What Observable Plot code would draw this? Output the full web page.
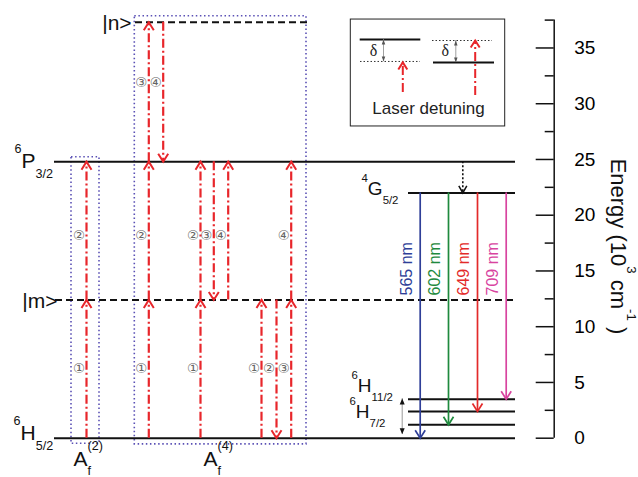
<!DOCTYPE html>
<html><head><meta charset="utf-8">
<script src="https://cdn.jsdelivr.net/npm/d3@7"></script>
<script src="https://cdn.jsdelivr.net/npm/@observablehq/plot@0.6"></script>
<style>body{margin:0;background:#fff;} svg{display:block}</style>
</head><body><div id="chart"></div>
<script>
// ---------------- data (energy in 10^3 cm^-1; x in diagram units) ----------------
const levelNames   = ["6H5/2", "|m>", "6P3/2", "|n>", "4G5/2", "6H11/2", "6H9/2", "6H7/2"];
const levelEnergy  = [0, 12.4, 24.8, 37.3, 22.0, 3.5, 2.4, 1.2];
const levelStart   = [54, 55, 54, 135, 408, 408, 408, 408];
const levelEnd     = [515, 515, 515, 307, 515, 515, 515, 515];
const levelDashed  = [false, true, false, true, false, false, false, false];

const pumpX      = [86, 86, 148.3, 148.3, 148.3, 162.7, 200, 200, 213.3, 227.7, 261, 276, 290.7, 290.7];
const pumpFrom   = [0, 12.4, 0, 12.4, 24.8, 37.3, 0, 12.4, 24.8, 12.4, 0, 12.4, 0, 12.4];
const pumpTo     = [12.4, 24.8, 12.4, 24.8, 37.3, 24.8, 12.4, 24.8, 12.4, 24.8, 12.4, 0, 12.4, 24.8];
const pumpStep   = ["①","②","①","②","③","④","①","②","③","④","①","②","③","④"];
const pumpLabelE = [6.2, 18.2, 6.2, 18.2, 31.9, 31.9, 6.2, 18.2, 18.2, 18.2, 6.2, 6.2, 6.2, 18.2];

const boxX1 = [71, 134.3], boxX2 = [99, 306], boxE1 = [-0.5, -0.55], boxE2 = [25.2, 37.85];

const emissionNm    = ["565 nm", "602 nm", "649 nm", "709 nm"];
const emissionX     = [419.7, 448, 477, 505.7];
const emissionTo    = [0, 1.2, 2.4, 3.5];
const emissionColor = ["#2f3f98", "#1f8a3e", "#e32a2a", "#d8449f"];
const emissionFrom  = 22.0;
const emissionLabelE = 12.8;

const relaxX = 462.3, relaxFrom = 24.8, relaxTo = 22.0;
const splitX = 401.7, splitTop = 3.55, splitBottom = 0.35;

const termText = ["^{6}P_{3/2}", "^{6}H_{5/2}", "|m>", "|n>", "A_{f}^{(2)}", "A_{f}^{(4)}", "^{4}G_{5/2}", "^{6}H_{11/2}", "^{6}H_{7/2}"];
const termX    = [14, 13, 21.7, 101.7, 73, 203, 361, 351, 349];
const termE    = [24.19, -0.2, 11.72, 36.65, -2.45, -2.45, 21.77, 4.1, 1.77];
const termBig  = [true, true, true, true, true, true, false, false, false];

// inset (laser detuning)
const insetX1 = 350.3, insetX2 = 504.7, insetE1 = 27.96, insetE2 = 37.55;
const insetLineX1 = [359.7, 360, 432, 433], insetLineX2 = [420.3, 420, 492, 494];
const insetLineE  = [35.76, 33.79, 35.67, 33.7];
const insetLineDotted = [false, true, true, false];
const deltaX = [373, 444.7], deltaE = 34.78;
const detuneX = [383, 455.3], detuneTop = [35.76, 35.67], detuneBottom = [33.79, 33.7];
const insetPumpX = [402.3, 474.7], insetPumpFrom = [31.0, 30.74], insetPumpTo = [33.7, 35.67];
const insetCaption = "Laser detuning", insetCaptionX = 428, insetCaptionE = 29.57;

const yTicks = [0, 5, 10, 15, 20, 25, 30, 35];
const yMinor = [2.5, 7.5, 12.5, 17.5, 22.5, 27.5, 32.5, 37.5];
const yTitle = "Energy (10^{3} cm^{-1} )";
const xMax = 553.7, yMax = 37.5;

// ---------------- build ----------------
const red = "#e8262b", purple = "#5a50b5";
const levels = levelNames.map((n, i) => ({n, e: levelEnergy[i], x1: levelStart[i], x2: levelEnd[i], dashed: levelDashed[i]}));
const pumps = pumpX.map((x, i) => ({x, from: pumpFrom[i], to: pumpTo[i], step: pumpStep[i], le: pumpLabelE[i]}));
const boxes = boxX1.map((x1, i) => ({x1, x2: boxX2[i], e1: boxE1[i], e2: boxE2[i]}));
const emissions = emissionNm.map((nm, i) => ({nm, x: emissionX[i], to: emissionTo[i], c: emissionColor[i]}));
const terms = termText.map((t, i) => ({t, x: termX[i], e: termE[i], big: termBig[i]}));
const insetLines = insetLineX1.map((x1, i) => ({x1, x2: insetLineX2[i], e: insetLineE[i], dotted: insetLineDotted[i]}));
const detunes = detuneX.map((x, i) => ({x, top: detuneTop[i], bottom: detuneBottom[i]}));
const insetPumps = insetPumpX.map((x, i) => ({x, from: insetPumpFrom[i], to: insetPumpTo[i]}));

const chevUp = (w, l) => ({draw(c) { c.moveTo(-w / 2, l); c.lineTo(0, 0); c.lineTo(w / 2, l); }});
const chevDown = (w, l) => ({draw(c) { c.moveTo(-w / 2, -l); c.lineTo(0, 0); c.lineTo(w / 2, -l); }});
const triUp = (w, l) => ({draw(c) { c.moveTo(0, 0); c.lineTo(-w / 2, l); c.lineTo(w / 2, l); c.closePath(); }});
const triDown = (w, l) => ({draw(c) { c.moveTo(0, 0); c.lineTo(-w / 2, -l); c.lineTo(w / 2, -l); c.closePath(); }});

const dashDot = "9,3,2,3";
const allPumpsUp = pumps.filter(d => d.to > d.from);
const allPumpsDown = pumps.filter(d => d.to < d.from);

const chart = Plot.plot({
  width: 638, height: 477,
  marginLeft: 0, marginRight: 638 - xMax, marginTop: 19.6, marginBottom: 39.3,
  x: {domain: [0, xMax], axis: null},
  y: {domain: [0, yMax], axis: null},
  color: {type: "identity"},
  style: {fontFamily: "'Liberation Sans', Arial, sans-serif", background: "white", overflow: "visible"},
  marks: [
    // dotted boxes
    Plot.rect(boxes, {x1: "x1", x2: "x2", y1: "e1", y2: "e2", fill: "none", stroke: purple, strokeWidth: 1.6, strokeDasharray: "1.5,2.6"}),
    // levels
    Plot.ruleY(levels.filter(d => !d.dashed), {y: "e", x1: "x1", x2: "x2", stroke: "#111", strokeWidth: 2}),
    Plot.ruleY(levels.filter(d => d.dashed), {y: "e", x1: "x1", x2: "x2", stroke: "#111", strokeWidth: 2, strokeDasharray: "7,4"}),
    // pump arrows
    Plot.ruleX(pumps, {x: "x", y1: "from", y2: "to", stroke: red, strokeWidth: 2.2, strokeDasharray: dashDot}),
    Plot.dot(allPumpsUp, {x: "x", y: "to", symbol: chevUp(10, 8), fill: "none", stroke: red, strokeWidth: 2}),
    Plot.dot(allPumpsDown, {x: "x", y: "to", symbol: chevDown(10, 8), fill: "none", stroke: red, strokeWidth: 2}),
    Plot.text(pumps, {x: d => d.x - 7.5, y: "le", text: "step", fontSize: 13.5, fill: "#666", fontFamily: "'DejaVu Sans', sans-serif"}),
    // relaxation 6P3/2 -> 4G5/2
    Plot.ruleX([relaxX], {x: d => d, y1: relaxFrom, y2: relaxTo, stroke: "#111", strokeWidth: 1.6, strokeDasharray: "2,2"}),
    Plot.dot([relaxX], {x: d => d, y: relaxTo, symbol: chevDown(8, 7), fill: "none", stroke: "#111", strokeWidth: 1.5}),
    // emissions
    Plot.ruleX(emissions, {x: "x", y1: emissionFrom, y2: "to", stroke: "c", strokeWidth: 1.7}),
    Plot.dot(emissions, {x: "x", y: "to", symbol: chevDown(10, 8), fill: "none", stroke: "c", strokeWidth: 1.7}),
    Plot.text(emissions, {x: d => d.x - 13.5, y: emissionLabelE, text: "nm", rotate: -90, textAnchor: "start", fill: "c", fontSize: 16}),
    // splitting double arrow
    Plot.ruleX([splitX], {x: d => d, y1: splitBottom, y2: splitTop, stroke: "#999", strokeWidth: 1}),
    Plot.dot([splitX], {x: d => d, y: splitTop, symbol: triUp(5, 6), fill: "#111", stroke: "none"}),
    Plot.dot([splitX], {x: d => d, y: splitBottom, symbol: triDown(5, 6), fill: "#111", stroke: "none"}),
    // inset
    Plot.rect([0], {x1: insetX1, x2: insetX2, y1: insetE1, y2: insetE2, fill: "white", stroke: "#222", strokeWidth: 1}),
    Plot.ruleY(insetLines.filter(d => !d.dotted), {y: "e", x1: "x1", x2: "x2", stroke: "#111", strokeWidth: 2}),
    Plot.ruleY(insetLines.filter(d => d.dotted), {y: "e", x1: "x1", x2: "x2", stroke: "#333", strokeWidth: 1, strokeDasharray: "1.5,2"}),
    Plot.ruleX(detunes, {x: "x", y1: "bottom", y2: "top", stroke: "#888", strokeWidth: 0.8}),
    Plot.dot(detunes, {x: "x", y: "top", symbol: triUp(3.5, 5), fill: "#555", stroke: "none"}),
    Plot.dot(detunes, {x: "x", y: "bottom", symbol: triDown(3.5, 5), fill: "#555", stroke: "none"}),
    Plot.text(deltaX, {x: d => d, y: deltaE, text: () => "δ", fontSize: 16, fontFamily: "'Liberation Serif', serif", fill: "#222"}),
    Plot.ruleX(insetPumps, {x: "x", y1: "from", y2: "to", stroke: red, strokeWidth: 2, strokeDasharray: dashDot}),
    Plot.dot(insetPumps, {x: "x", y: "to", symbol: chevUp(9, 7), fill: "none", stroke: red, strokeWidth: 2}),
    Plot.text([insetCaption], {x: insetCaptionX, y: insetCaptionE, text: d => d, fontSize: 17, fill: "#222"}),
    // term labels
    Plot.text(terms.filter(d => d.big), {x: "x", y: "e", text: "t", textAnchor: "start", lineAnchor: "bottom", fontSize: 21, fill: "#111"}),
    Plot.text(terms.filter(d => !d.big), {x: "x", y: "e", text: "t", textAnchor: "start", lineAnchor: "bottom", fontSize: 19, fill: "#111"}),
    // energy axis
    Plot.ruleX([xMax], {x: d => d, y1: 0, y2: yMax, stroke: "#111", strokeWidth: 1.5}),
    Plot.ruleY(yTicks, {y: d => d, x1: xMax - 18, x2: xMax, stroke: "#111", strokeWidth: 1.5}),
    Plot.ruleY(yMinor, {y: d => d, x1: xMax - 9, x2: xMax, stroke: "#111", strokeWidth: 1.5}),
    Plot.axisY({anchor: "right", ticks: yTicks, tickSize: 0, tickPadding: 20, fontSize: 19, label: null, tickFormat: d => String(d)}),
    Plot.text([yTitle], {x: xMax + 64, y: 17.2, text: d => d, rotate: 90, fontSize: 22, fill: "#111"})
  ]
});

document.getElementById("chart").appendChild(chart);

// rich text: ^{sup} and _{sub}
(function richify(root) {
  const NS = "http://www.w3.org/2000/svg";
  root.querySelectorAll("text").forEach(t => {
    const s = t.textContent;
    if (!/[\^_]\{/.test(s)) return;
    const fs = parseFloat(getComputedStyle(t).fontSize);
    t.textContent = "";
    const re = /([\^_])\{([^}]*)\}|([^\^_]+)/g;
    let m, shift = 0, last = null;
    while ((m = re.exec(s))) {
      const ts = document.createElementNS(NS, "tspan");
      let target = 0;
      if (m[1] === "^") { target = -0.72 * fs; ts.setAttribute("font-size", 0.6 * fs); }
      else if (m[1] === "_") { target = 0.45 * fs; ts.setAttribute("font-size", 0.6 * fs); }
      ts.textContent = m[1] ? m[2] : m[3];
      if (target !== shift) ts.setAttribute("dy", target - shift);
      t.appendChild(ts);
      if (last && last.kind === "_" && m[1] === "^") ts.setAttribute("dx", -last.node.getComputedTextLength());
      last = {kind: m[1] || "", node: ts};
      shift = target;
    }
  });
})(chart);
</script>
</body></html>
